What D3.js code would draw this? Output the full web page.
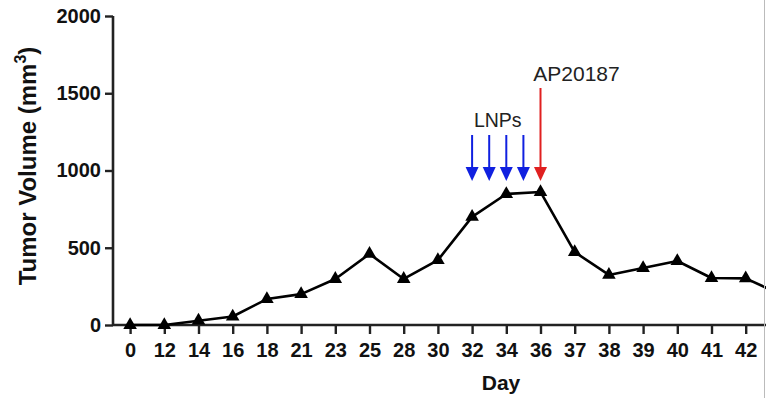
<!DOCTYPE html>
<html><head><meta charset="utf-8">
<script src="https://cdn.jsdelivr.net/npm/d3@7/dist/d3.min.js"></script>
<style>body{margin:0;background:#fff}svg{display:block}</style>
</head><body>
<svg id="c" width="766" height="398"></svg>
<script>
const days = ["0","12","14","16","18","21","23","25","28","30","32","34","36","37","38","39","40","41","42","43"];
const volume = [0,0,28,55,168,200,298,460,298,420,700,848,861,472,324,369,414,304,302,200];
const yTicks = [0,500,1000,1500,2000];
const lnpDays = [32,33,34,35];
const apDay = 36;

const svg = d3.select("#c");
const font = "Liberation Sans, Arial, sans-serif";
const x = d3.scalePoint().domain(days).range([113, 113 + 34.2*days.length]).padding(0.5);
const y = d3.scaleLinear().domain([0,2000]).range([325,16]);
const dayNum = days.map(Number);
function xDay(d){
  for(let i=0;i<dayNum.length-1;i++){
    if(d>=dayNum[i] && d<=dayNum[i+1]){
      const t=(d-dayNum[i])/(dayNum[i+1]-dayNum[i]);
      return x(days[i])+(x(days[i+1])-x(days[i]))*t;
    }
  }
  return x(String(d));
}

// axes
const ya = svg.append("g").attr("transform","translate(113,0)")
  .call(d3.axisLeft(y).tickValues(yTicks).tickSize(8).tickPadding(4).tickFormat(d3.format("d")));
const xa = svg.append("g").attr("transform","translate(0,325)")
  .call(d3.axisBottom(x).tickValues(days.slice(0,-1)).tickSize(9).tickPadding(9));
[ya,xa].forEach(g=>{
  g.selectAll("path.domain").attr("stroke","#222").attr("stroke-width",2.6);
  g.selectAll(".tick line").attr("stroke","#222").attr("stroke-width",2.4);
  g.selectAll("text").attr("font-family",font).attr("font-weight","bold").attr("font-size",20).attr("fill","#111");
});
ya.select("path.domain").attr("d","M0,325V16");
xa.select("path.domain").attr("d","M113,0H"+(113+34.2*days.length));

// line
const pts = days.map((d,i)=>[x(d), y(volume[i])]);
svg.append("path").datum(pts).attr("fill","none").attr("stroke","#000").attr("stroke-width",2.6)
  .attr("stroke-linejoin","round").attr("d",d3.line());
svg.selectAll("path.mk").data(pts).join("path").attr("class","mk")
  .attr("transform",d=>`translate(${d[0]},${d[1]})`)
  .attr("d",d3.symbol(d3.symbolTriangle).size(80)).attr("fill","#000");

// arrows
function arrow(xp, y0, y1, col){
  svg.append("line").attr("x1",xp).attr("x2",xp).attr("y1",y0).attr("y2",y1-10)
    .attr("stroke",col).attr("stroke-width",2);
  svg.append("path").attr("d",`M${xp-6.5},${y1-14}L${xp+6.5},${y1-14}L${xp},${y1}Z`).attr("fill",col);
}
lnpDays.forEach(d=>arrow(xDay(d),135,181,"#1020e0"));
arrow(xDay(apDay),88,181,"#e02020");
svg.append("text").attr("x",d3.mean(lnpDays,xDay)).attr("y",127).attr("text-anchor","middle")
  .attr("font-family",font).attr("font-size",19.5).attr("fill","#222").text("LNPs");
svg.append("text").attr("x",xDay(apDay)+36).attr("y",81).attr("text-anchor","middle")
  .attr("font-family",font).attr("font-size",21).attr("fill","#222").text("AP20187");

// axis titles
const yt = svg.append("text").attr("transform","translate(36,166) rotate(-90)").attr("text-anchor","middle")
  .attr("font-family",font).attr("font-weight","bold").attr("font-size",24).attr("fill","#111");
yt.append("tspan").text("Tumor Volume (mm");
yt.append("tspan").attr("dy",-10).attr("font-size",16).text("3");
yt.append("tspan").attr("dy",10).text(")");
svg.append("text").attr("x",501).attr("y",390).attr("text-anchor","middle")
  .attr("font-family",font).attr("font-weight","bold").attr("font-size",21).attr("fill","#111").text("Day");

// right border of cropped figure
svg.append("line").attr("x1",764.5).attr("x2",764.5).attr("y1",0).attr("y2",398).attr("stroke","#bbb").attr("stroke-width",1);
</script>
</body></html>
